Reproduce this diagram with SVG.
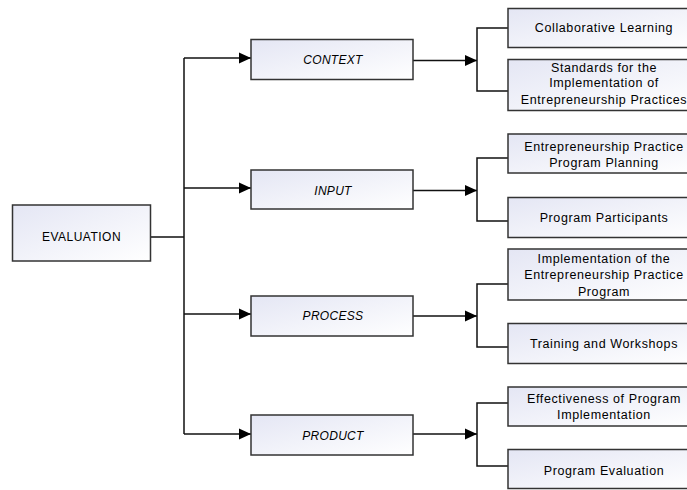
<svg xmlns="http://www.w3.org/2000/svg" width="687" height="490" viewBox="0 0 687 490">
<defs>
<linearGradient id="g" x1="0" y1="0" x2="1" y2="1">
<stop offset="0" stop-color="#e4e6f4"/>
<stop offset="1" stop-color="#ffffff"/>
</linearGradient>
<marker id="arr" markerUnits="userSpaceOnUse" markerWidth="12" markerHeight="12" refX="12" refY="6" orient="auto">
<path d="M0,0.5 L12,6 L0,11.5 Z" fill="#000"/>
</marker>
<style>
.box{fill:url(#g);stroke:#333;stroke-width:1.5}
.ln{fill:none;stroke:#111;stroke-width:1.5}
.t{font-family:"Liberation Sans",Arial,sans-serif;font-size:12.5px;letter-spacing:0.6px;fill:#000;text-anchor:middle}
.m{font-family:"Liberation Sans",Arial,sans-serif;font-size:12px;letter-spacing:0.3px;font-style:italic;fill:#000;text-anchor:middle}
</style>
</defs>
<g id="connectors">
<path class="ln" d="M151,237 H184 M184,58 V434"/>
<path class="ln" d="M184,58 H251" marker-end="url(#arr)"/>
<path class="ln" d="M184,188 H251" marker-end="url(#arr)"/>
<path class="ln" d="M184,314 H251" marker-end="url(#arr)"/>
<path class="ln" d="M184,434 H251" marker-end="url(#arr)"/>
<path class="ln" d="M413,60.5 H477" marker-end="url(#arr)"/>
<path class="ln" d="M413,190.5 H477" marker-end="url(#arr)"/>
<path class="ln" d="M413,316 H477" marker-end="url(#arr)"/>
<path class="ln" d="M413,434 H477" marker-end="url(#arr)"/>
<path class="ln" d="M508,28 H477 V91 H508"/>
<path class="ln" d="M508,158 H477 V221 H508"/>
<path class="ln" d="M508,284 H477 V347 H508"/>
<path class="ln" d="M508,403 H477 V466 H508"/>
</g>
<g id="evaluation">
<rect class="box" x="12.5" y="205" width="138" height="56"/>
<text class="t" x="81.5" y="241" style="font-size:12px;letter-spacing:0.5px">EVALUATION</text>
</g>
<g id="context">
<rect class="box" x="251" y="39.5" width="162" height="40"/>
<text class="m" x="333" y="64">CONTEXT</text>
</g>
<g id="input">
<rect class="box" x="251" y="170" width="162" height="39"/>
<text class="m" x="333" y="194.5">INPUT</text>
</g>
<g id="process">
<rect class="box" x="251" y="296" width="162" height="40"/>
<text class="m" x="333" y="320">PROCESS</text>
</g>
<g id="product">
<rect class="box" x="251" y="415" width="162" height="40"/>
<text class="m" x="333" y="439.5">PRODUCT</text>
</g>
<g id="collaborative-learning">
<rect class="box" x="508" y="8.5" width="190" height="39"/>
<text class="t" x="604" y="32">Collaborative Learning</text>
</g>
<g id="standards">
<rect class="box" x="508" y="59.5" width="190" height="51"/>
<text class="t" x="604" y="72">Standards for the</text>
<text class="t" x="604" y="87">Implementation of</text>
<text class="t" x="604" y="104">Entrepreneurship Practices</text>
</g>
<g id="program-planning">
<rect class="box" x="508" y="134" width="190" height="39"/>
<text class="t" x="604" y="151">Entrepreneurship Practice</text>
<text class="t" x="604" y="167">Program Planning</text>
</g>
<g id="program-participants">
<rect class="box" x="508" y="197.5" width="190" height="40"/>
<text class="t" x="604" y="221.5">Program Participants</text>
</g>
<g id="implementation">
<rect class="box" x="508" y="249" width="190" height="51"/>
<text class="t" x="604" y="262.5">Implementation of the</text>
<text class="t" x="604" y="279">Entrepreneurship Practice</text>
<text class="t" x="604" y="296">Program</text>
</g>
<g id="training">
<rect class="box" x="508" y="323.5" width="190" height="40"/>
<text class="t" x="604" y="348">Training and Workshops</text>
</g>
<g id="effectiveness">
<rect class="box" x="508" y="387" width="190" height="39"/>
<text class="t" x="604" y="402.5">Effectiveness of Program</text>
<text class="t" x="604" y="419">Implementation</text>
</g>
<g id="program-evaluation">
<rect class="box" x="508" y="449.5" width="190" height="39"/>
<text class="t" x="604" y="475">Program Evaluation</text>
</g>
</svg>
